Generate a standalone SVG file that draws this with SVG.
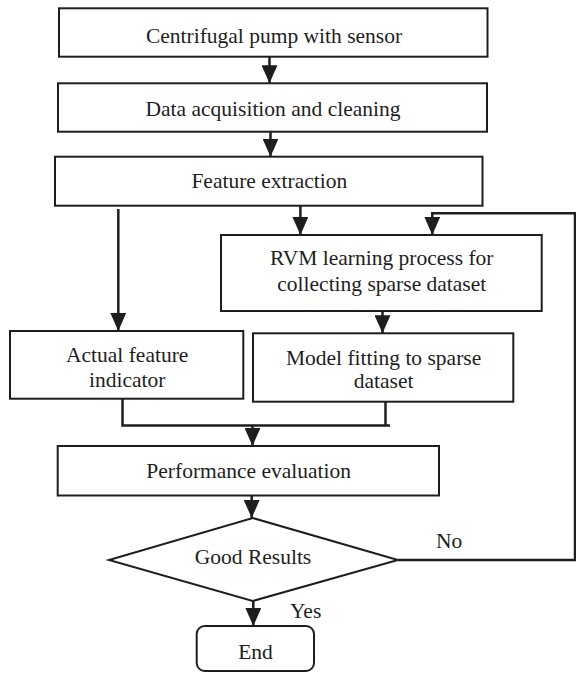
<svg xmlns="http://www.w3.org/2000/svg" width="576" height="673" viewBox="0 0 576 673">
<style>
.box{fill:#fff;stroke:#1e1e1e;stroke-width:2}
.t{font-family:"Liberation Serif","Times New Roman",serif;font-size:21.5px;fill:#1e1e1e;text-anchor:middle}
.tl{font-family:"Liberation Serif","Times New Roman",serif;font-size:21.5px;fill:#1e1e1e}
.c{fill:none;stroke:#1e1e1e;stroke-width:2.5}
</style>
<defs>
<marker id="ah" markerUnits="userSpaceOnUse" markerWidth="18" markerHeight="16" viewBox="0 0 17 15" refX="17" refY="7.5" orient="auto">
<path d="M0,0 L17,7.5 L0,15 z" fill="#1e1e1e"/>
</marker>
</defs>
<rect width="576" height="673" fill="#fff"/>
<g id="connectors">
<line class="c" x1="269.5" y1="56.7" x2="269.5" y2="83.3" marker-end="url(#ah)"/>
<line class="c" x1="270.5" y1="131.7" x2="270.5" y2="156.7" marker-end="url(#ah)"/>
<line class="c" x1="118.3" y1="209" x2="118.3" y2="331" marker-end="url(#ah)"/>
<line class="c" x1="300.4" y1="205.7" x2="300.4" y2="235" marker-end="url(#ah)"/>
<polyline class="c" points="575,560 575,213.3 432.3,213.3 432.3,235" marker-end="url(#ah)"/>
<line class="c" x1="382.5" y1="311" x2="382.5" y2="333.3" marker-end="url(#ah)"/>
<polyline class="c" points="122.5,398.7 122.5,425.5 390,425.5"/>
<line class="c" x1="385.5" y1="401.7" x2="385.5" y2="425.5"/>
<line class="c" x1="252.5" y1="425.5" x2="252.5" y2="446" marker-end="url(#ah)"/>
<line class="c" x1="251.7" y1="495.5" x2="251.7" y2="518" marker-end="url(#ah)"/>
<line class="c" x1="398" y1="560" x2="576" y2="560"/>
<line class="c" x1="253.3" y1="601" x2="253.3" y2="626" marker-end="url(#ah)"/>
<text class="tl" x="436" y="547.7">No</text>
<text class="tl" x="290" y="618">Yes</text>
</g>
<g id="n1">
<rect class="box" x="59" y="8.3" width="428.5" height="48.4"/>
<text class="t" x="274" y="42.7">Centrifugal pump with sensor</text>
</g>
<g id="n2">
<rect class="box" x="58" y="83.3" width="429" height="48.4"/>
<text class="t" x="273" y="115.5">Data acquisition and cleaning</text>
</g>
<g id="n3">
<rect class="box" x="55" y="156.7" width="427.5" height="49"/>
<text class="t" x="269.3" y="188.3">Feature extraction</text>
</g>
<g id="n4">
<rect class="box" x="221" y="235" width="320.7" height="76"/>
<text class="t" x="381.8" y="265">RVM learning process for</text>
<text class="t" x="381.8" y="290.7">collecting sparse dataset</text>
</g>
<g id="n5">
<rect class="box" x="10" y="331" width="233.3" height="67.7"/>
<text class="t" x="127.2" y="361.7">Actual feature</text>
<text class="t" x="127.2" y="386.7">indicator</text>
</g>
<g id="n6">
<rect class="box" x="253" y="333.3" width="260.3" height="68.4"/>
<text class="t" x="383.6" y="365">Model fitting to sparse</text>
<text class="t" x="383.6" y="388.3">dataset</text>
</g>
<g id="n7">
<rect class="box" x="57.7" y="446" width="381.3" height="49.5"/>
<text class="t" x="248.7" y="478.3">Performance evaluation</text>
</g>
<g id="n8">
<polygon class="box" points="252.7,518 398,560 252.7,601 109,560"/>
<text class="t" x="253" y="564">Good Results</text>
</g>
<g id="n9">
<rect class="box" x="196.7" y="626" width="117.3" height="45" rx="8" ry="8"/>
<text class="t" x="255.5" y="659">End</text>
</g>
</svg>
